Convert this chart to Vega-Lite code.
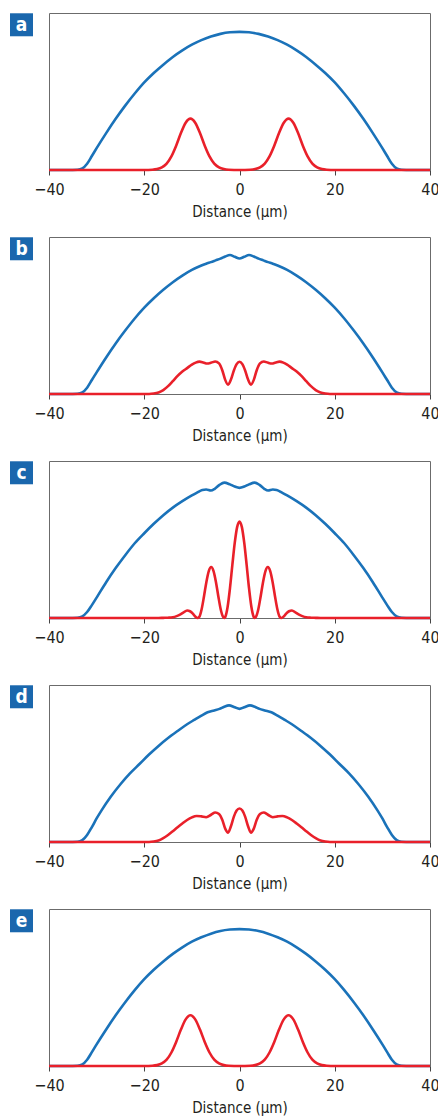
{
"$schema": "https://vega.github.io/schema/vega-lite/v6.json",
"padding": {"left": 9, "top": 12, "right": 0, "bottom": 0},
"spacing": 16,
"config": {
  "view": {"stroke": "#6b6b6b", "strokeWidth": 1},
  "font": "Liberation Sans Narrow, DejaVu Sans Condensed, Liberation Sans, sans-serif",
  "axis": {"labelFont": "Liberation Sans Narrow, DejaVu Sans Condensed, Liberation Sans, sans-serif", "titleFont": "Liberation Sans Narrow, DejaVu Sans Condensed, Liberation Sans, sans-serif", "labelFontSize": 16, "titleFontSize": 15, "titleFontWeight": "normal", "labelColor": "#231f20", "titleColor": "#231f20", "tickColor": "#444444", "domainColor": "#6b6b6b", "tickSize": 5, "labelPadding": 6, "titlePadding": 7, "labelFlush": false, "labelOverlap": false, "grid": false}
},
"datasets": {
"curves": [
{"p":"a","s":"blue","x":-40,"y":0},{"p":"a","s":"blue","x":-36,"y":0},{"p":"a","s":"blue","x":-34,"y":0.002},{"p":"a","s":"blue","x":-33,"y":0.010},{"p":"a","s":"blue","x":-32,"y":0.040},{"p":"a","s":"blue","x":-31,"y":0.089},{"p":"a","s":"blue","x":-30,"y":0.139},{"p":"a","s":"blue","x":-28,"y":0.235},{"p":"a","s":"blue","x":-26,"y":0.326},{"p":"a","s":"blue","x":-24,"y":0.410},{"p":"a","s":"blue","x":-22,"y":0.487},{"p":"a","s":"blue","x":-20,"y":0.558},{"p":"a","s":"blue","x":-18,"y":0.618},{"p":"a","s":"blue","x":-16,"y":0.671},{"p":"a","s":"blue","x":-14,"y":0.720},{"p":"a","s":"blue","x":-12,"y":0.762},{"p":"a","s":"blue","x":-10,"y":0.798},{"p":"a","s":"blue","x":-8,"y":0.827},{"p":"a","s":"blue","x":-6,"y":0.850},{"p":"a","s":"blue","x":-4,"y":0.867},{"p":"a","s":"blue","x":-2,"y":0.877},{"p":"a","s":"blue","x":0,"y":0.880},{"p":"a","s":"blue","x":2,"y":0.877},{"p":"a","s":"blue","x":4,"y":0.867},{"p":"a","s":"blue","x":6,"y":0.850},{"p":"a","s":"blue","x":8,"y":0.827},{"p":"a","s":"blue","x":10,"y":0.798},{"p":"a","s":"blue","x":12,"y":0.762},{"p":"a","s":"blue","x":14,"y":0.720},{"p":"a","s":"blue","x":16,"y":0.671},{"p":"a","s":"blue","x":18,"y":0.618},{"p":"a","s":"blue","x":20,"y":0.558},{"p":"a","s":"blue","x":22,"y":0.487},{"p":"a","s":"blue","x":24,"y":0.410},{"p":"a","s":"blue","x":26,"y":0.326},{"p":"a","s":"blue","x":28,"y":0.235},{"p":"a","s":"blue","x":30,"y":0.139},{"p":"a","s":"blue","x":31,"y":0.089},{"p":"a","s":"blue","x":32,"y":0.040},{"p":"a","s":"blue","x":33,"y":0.010},{"p":"a","s":"blue","x":34,"y":0.002},{"p":"a","s":"blue","x":36,"y":0},{"p":"a","s":"blue","x":40,"y":0},
{"p":"a","s":"red","x":-40,"y":0},{"p":"a","s":"red","x":-20,"y":0},{"p":"a","s":"red","x":-18.3,"y":0.0016},{"p":"a","s":"red","x":-17.3,"y":0.0057},{"p":"a","s":"red","x":-16.3,"y":0.0167},{"p":"a","s":"red","x":-15.3,"y":0.041},{"p":"a","s":"red","x":-14.3,"y":0.087},{"p":"a","s":"red","x":-13.3,"y":0.155},{"p":"a","s":"red","x":-12.3,"y":0.235},{"p":"a","s":"red","x":-11.3,"y":0.301},{"p":"a","s":"red","x":-10.3,"y":0.327},{"p":"a","s":"red","x":-9.3,"y":0.301},{"p":"a","s":"red","x":-8.3,"y":0.235},{"p":"a","s":"red","x":-7.3,"y":0.155},{"p":"a","s":"red","x":-6.3,"y":0.087},{"p":"a","s":"red","x":-5.3,"y":0.041},{"p":"a","s":"red","x":-4.3,"y":0.0167},{"p":"a","s":"red","x":-3.3,"y":0.0057},{"p":"a","s":"red","x":-2.3,"y":0.0016},{"p":"a","s":"red","x":0,"y":0},{"p":"a","s":"red","x":2.3,"y":0.0016},{"p":"a","s":"red","x":3.3,"y":0.0057},{"p":"a","s":"red","x":4.3,"y":0.0167},{"p":"a","s":"red","x":5.3,"y":0.041},{"p":"a","s":"red","x":6.3,"y":0.087},{"p":"a","s":"red","x":7.3,"y":0.155},{"p":"a","s":"red","x":8.3,"y":0.235},{"p":"a","s":"red","x":9.3,"y":0.301},{"p":"a","s":"red","x":10.3,"y":0.327},{"p":"a","s":"red","x":11.3,"y":0.301},{"p":"a","s":"red","x":12.3,"y":0.235},{"p":"a","s":"red","x":13.3,"y":0.155},{"p":"a","s":"red","x":14.3,"y":0.087},{"p":"a","s":"red","x":15.3,"y":0.041},{"p":"a","s":"red","x":16.3,"y":0.0167},{"p":"a","s":"red","x":17.3,"y":0.0057},{"p":"a","s":"red","x":18.3,"y":0.0016},{"p":"a","s":"red","x":20,"y":0},{"p":"a","s":"red","x":40,"y":0},
{"p":"b","s":"blue","x":-40,"y":0},{"p":"b","s":"blue","x":-36,"y":0},{"p":"b","s":"blue","x":-34,"y":0.002},{"p":"b","s":"blue","x":-33,"y":0.010},{"p":"b","s":"blue","x":-32,"y":0.040},{"p":"b","s":"blue","x":-31,"y":0.089},{"p":"b","s":"blue","x":-30,"y":0.138},{"p":"b","s":"blue","x":-28,"y":0.233},{"p":"b","s":"blue","x":-26,"y":0.322},{"p":"b","s":"blue","x":-24,"y":0.404},{"p":"b","s":"blue","x":-22,"y":0.481},{"p":"b","s":"blue","x":-20,"y":0.550},{"p":"b","s":"blue","x":-18,"y":0.610},{"p":"b","s":"blue","x":-16,"y":0.664},{"p":"b","s":"blue","x":-14,"y":0.712},{"p":"b","s":"blue","x":-12,"y":0.754},{"p":"b","s":"blue","x":-10,"y":0.790},{"p":"b","s":"blue","x":-8,"y":0.818},{"p":"b","s":"blue","x":-7,"y":0.830},{"p":"b","s":"blue","x":-6,"y":0.840},{"p":"b","s":"blue","x":-5,"y":0.851},{"p":"b","s":"blue","x":-4,"y":0.862},{"p":"b","s":"blue","x":-3,"y":0.876},{"p":"b","s":"blue","x":-2,"y":0.885},{"p":"b","s":"blue","x":-1,"y":0.874},{"p":"b","s":"blue","x":0,"y":0.863},{"p":"b","s":"blue","x":1,"y":0.874},{"p":"b","s":"blue","x":2,"y":0.885},{"p":"b","s":"blue","x":3,"y":0.876},{"p":"b","s":"blue","x":4,"y":0.862},{"p":"b","s":"blue","x":5,"y":0.851},{"p":"b","s":"blue","x":6,"y":0.840},{"p":"b","s":"blue","x":7,"y":0.830},{"p":"b","s":"blue","x":8,"y":0.818},{"p":"b","s":"blue","x":10,"y":0.790},{"p":"b","s":"blue","x":12,"y":0.754},{"p":"b","s":"blue","x":14,"y":0.712},{"p":"b","s":"blue","x":16,"y":0.664},{"p":"b","s":"blue","x":18,"y":0.610},{"p":"b","s":"blue","x":20,"y":0.550},{"p":"b","s":"blue","x":22,"y":0.481},{"p":"b","s":"blue","x":24,"y":0.404},{"p":"b","s":"blue","x":26,"y":0.322},{"p":"b","s":"blue","x":28,"y":0.233},{"p":"b","s":"blue","x":30,"y":0.138},{"p":"b","s":"blue","x":31,"y":0.089},{"p":"b","s":"blue","x":32,"y":0.040},{"p":"b","s":"blue","x":33,"y":0.010},{"p":"b","s":"blue","x":34,"y":0.002},{"p":"b","s":"blue","x":36,"y":0},{"p":"b","s":"blue","x":40,"y":0},
{"p":"b","s":"red","x":-40,"y":0},{"p":"b","s":"red","x":-19,"y":0},{"p":"b","s":"red","x":-18,"y":0.003},{"p":"b","s":"red","x":-17,"y":0.010},{"p":"b","s":"red","x":-16,"y":0.025},{"p":"b","s":"red","x":-15,"y":0.050},{"p":"b","s":"red","x":-14,"y":0.082},{"p":"b","s":"red","x":-13,"y":0.115},{"p":"b","s":"red","x":-12,"y":0.143},{"p":"b","s":"red","x":-11,"y":0.165},{"p":"b","s":"red","x":-10,"y":0.187},{"p":"b","s":"red","x":-9.2,"y":0.200},{"p":"b","s":"red","x":-8.4,"y":0.206},{"p":"b","s":"red","x":-7.6,"y":0.201},{"p":"b","s":"red","x":-6.8,"y":0.194},{"p":"b","s":"red","x":-5.9,"y":0.200},{"p":"b","s":"red","x":-5.1,"y":0.207},{"p":"b","s":"red","x":-4.3,"y":0.195},{"p":"b","s":"red","x":-3.6,"y":0.150},{"p":"b","s":"red","x":-3.0,"y":0.090},{"p":"b","s":"red","x":-2.4,"y":0.060},{"p":"b","s":"red","x":-1.8,"y":0.092},{"p":"b","s":"red","x":-1.2,"y":0.148},{"p":"b","s":"red","x":-0.6,"y":0.190},{"p":"b","s":"red","x":0,"y":0.205},{"p":"b","s":"red","x":0.6,"y":0.190},{"p":"b","s":"red","x":1.2,"y":0.148},{"p":"b","s":"red","x":1.8,"y":0.092},{"p":"b","s":"red","x":2.4,"y":0.060},{"p":"b","s":"red","x":3.0,"y":0.090},{"p":"b","s":"red","x":3.6,"y":0.150},{"p":"b","s":"red","x":4.3,"y":0.195},{"p":"b","s":"red","x":5.1,"y":0.207},{"p":"b","s":"red","x":5.9,"y":0.200},{"p":"b","s":"red","x":6.8,"y":0.194},{"p":"b","s":"red","x":7.6,"y":0.201},{"p":"b","s":"red","x":8.4,"y":0.206},{"p":"b","s":"red","x":9.2,"y":0.200},{"p":"b","s":"red","x":10,"y":0.187},{"p":"b","s":"red","x":11,"y":0.165},{"p":"b","s":"red","x":12,"y":0.143},{"p":"b","s":"red","x":13,"y":0.115},{"p":"b","s":"red","x":14,"y":0.082},{"p":"b","s":"red","x":15,"y":0.050},{"p":"b","s":"red","x":16,"y":0.025},{"p":"b","s":"red","x":17,"y":0.010},{"p":"b","s":"red","x":18,"y":0.003},{"p":"b","s":"red","x":19,"y":0},{"p":"b","s":"red","x":40,"y":0},
{"p":"c","s":"blue","x":-40,"y":0},{"p":"c","s":"blue","x":-36,"y":0},{"p":"c","s":"blue","x":-34,"y":0.002},{"p":"c","s":"blue","x":-33,"y":0.010},{"p":"c","s":"blue","x":-32,"y":0.038},{"p":"c","s":"blue","x":-31,"y":0.082},{"p":"c","s":"blue","x":-30,"y":0.130},{"p":"c","s":"blue","x":-28,"y":0.228},{"p":"c","s":"blue","x":-26,"y":0.318},{"p":"c","s":"blue","x":-24,"y":0.400},{"p":"c","s":"blue","x":-22,"y":0.476},{"p":"c","s":"blue","x":-20,"y":0.540},{"p":"c","s":"blue","x":-18,"y":0.600},{"p":"c","s":"blue","x":-16,"y":0.655},{"p":"c","s":"blue","x":-14,"y":0.703},{"p":"c","s":"blue","x":-12,"y":0.744},{"p":"c","s":"blue","x":-10,"y":0.781},{"p":"c","s":"blue","x":-9,"y":0.797},{"p":"c","s":"blue","x":-7.8,"y":0.815},{"p":"c","s":"blue","x":-7,"y":0.818},{"p":"c","s":"blue","x":-6,"y":0.812},{"p":"c","s":"blue","x":-5.2,"y":0.823},{"p":"c","s":"blue","x":-4.2,"y":0.848},{"p":"c","s":"blue","x":-3.2,"y":0.862},{"p":"c","s":"blue","x":-2,"y":0.851},{"p":"c","s":"blue","x":-1,"y":0.837},{"p":"c","s":"blue","x":0,"y":0.829},{"p":"c","s":"blue","x":1,"y":0.837},{"p":"c","s":"blue","x":2,"y":0.851},{"p":"c","s":"blue","x":3.2,"y":0.862},{"p":"c","s":"blue","x":4.2,"y":0.848},{"p":"c","s":"blue","x":5.2,"y":0.823},{"p":"c","s":"blue","x":6,"y":0.812},{"p":"c","s":"blue","x":7,"y":0.818},{"p":"c","s":"blue","x":7.8,"y":0.815},{"p":"c","s":"blue","x":9,"y":0.797},{"p":"c","s":"blue","x":10,"y":0.781},{"p":"c","s":"blue","x":12,"y":0.744},{"p":"c","s":"blue","x":14,"y":0.703},{"p":"c","s":"blue","x":16,"y":0.655},{"p":"c","s":"blue","x":18,"y":0.600},{"p":"c","s":"blue","x":20,"y":0.540},{"p":"c","s":"blue","x":22,"y":0.476},{"p":"c","s":"blue","x":24,"y":0.400},{"p":"c","s":"blue","x":26,"y":0.318},{"p":"c","s":"blue","x":28,"y":0.228},{"p":"c","s":"blue","x":30,"y":0.130},{"p":"c","s":"blue","x":31,"y":0.082},{"p":"c","s":"blue","x":32,"y":0.038},{"p":"c","s":"blue","x":33,"y":0.010},{"p":"c","s":"blue","x":34,"y":0.002},{"p":"c","s":"blue","x":36,"y":0},{"p":"c","s":"blue","x":40,"y":0},
{"p":"c","s":"red","x":-40,"y":0},{"p":"c","s":"red","x":-17,"y":0},{"p":"c","s":"red","x":-16,"y":0.001},{"p":"c","s":"red","x":-15,"y":0.002},{"p":"c","s":"red","x":-14,"y":0.005},{"p":"c","s":"red","x":-13.2,"y":0.012},{"p":"c","s":"red","x":-12.5,"y":0.021},{"p":"c","s":"red","x":-11.8,"y":0.034},{"p":"c","s":"red","x":-11,"y":0.048},{"p":"c","s":"red","x":-10.4,"y":0.043},{"p":"c","s":"red","x":-9.8,"y":0.028},{"p":"c","s":"red","x":-9.3,"y":0.010},{"p":"c","s":"red","x":-8.8,"y":0},{"p":"c","s":"red","x":-8.45,"y":0.007},{"p":"c","s":"red","x":-7.95,"y":0.056},{"p":"c","s":"red","x":-7.45,"y":0.139},{"p":"c","s":"red","x":-6.95,"y":0.230},{"p":"c","s":"red","x":-6.45,"y":0.299},{"p":"c","s":"red","x":-5.95,"y":0.325},{"p":"c","s":"red","x":-5.45,"y":0.299},{"p":"c","s":"red","x":-4.95,"y":0.230},{"p":"c","s":"red","x":-4.45,"y":0.139},{"p":"c","s":"red","x":-3.95,"y":0.056},{"p":"c","s":"red","x":-3.45,"y":0.007},{"p":"c","s":"red","x":-3.2,"y":0},{"p":"c","s":"red","x":-3.0,"y":0.006},{"p":"c","s":"red","x":-2.5,"y":0.070},{"p":"c","s":"red","x":-2.0,"y":0.190},{"p":"c","s":"red","x":-1.5,"y":0.338},{"p":"c","s":"red","x":-1.0,"y":0.478},{"p":"c","s":"red","x":-0.5,"y":0.579},{"p":"c","s":"red","x":0,"y":0.615},{"p":"c","s":"red","x":0.5,"y":0.579},{"p":"c","s":"red","x":1.0,"y":0.478},{"p":"c","s":"red","x":1.5,"y":0.338},{"p":"c","s":"red","x":2.0,"y":0.190},{"p":"c","s":"red","x":2.5,"y":0.070},{"p":"c","s":"red","x":3.0,"y":0.006},{"p":"c","s":"red","x":3.2,"y":0},{"p":"c","s":"red","x":3.45,"y":0.007},{"p":"c","s":"red","x":3.95,"y":0.056},{"p":"c","s":"red","x":4.45,"y":0.139},{"p":"c","s":"red","x":4.95,"y":0.230},{"p":"c","s":"red","x":5.45,"y":0.299},{"p":"c","s":"red","x":5.95,"y":0.325},{"p":"c","s":"red","x":6.45,"y":0.299},{"p":"c","s":"red","x":6.95,"y":0.230},{"p":"c","s":"red","x":7.45,"y":0.139},{"p":"c","s":"red","x":7.95,"y":0.056},{"p":"c","s":"red","x":8.45,"y":0.007},{"p":"c","s":"red","x":8.8,"y":0},{"p":"c","s":"red","x":9.3,"y":0.010},{"p":"c","s":"red","x":9.8,"y":0.028},{"p":"c","s":"red","x":10.4,"y":0.043},{"p":"c","s":"red","x":11,"y":0.048},{"p":"c","s":"red","x":11.8,"y":0.034},{"p":"c","s":"red","x":12.5,"y":0.021},{"p":"c","s":"red","x":13.2,"y":0.012},{"p":"c","s":"red","x":14,"y":0.005},{"p":"c","s":"red","x":15,"y":0.002},{"p":"c","s":"red","x":16,"y":0.001},{"p":"c","s":"red","x":17,"y":0},{"p":"c","s":"red","x":40,"y":0},
{"p":"d","s":"blue","x":-40,"y":0},{"p":"d","s":"blue","x":-36,"y":0},{"p":"d","s":"blue","x":-34,"y":0.002},{"p":"d","s":"blue","x":-33,"y":0.012},{"p":"d","s":"blue","x":-32,"y":0.045},{"p":"d","s":"blue","x":-31,"y":0.095},{"p":"d","s":"blue","x":-30,"y":0.150},{"p":"d","s":"blue","x":-29,"y":0.200},{"p":"d","s":"blue","x":-27,"y":0.290},{"p":"d","s":"blue","x":-25,"y":0.368},{"p":"d","s":"blue","x":-23,"y":0.437},{"p":"d","s":"blue","x":-21,"y":0.497},{"p":"d","s":"blue","x":-19,"y":0.557},{"p":"d","s":"blue","x":-17,"y":0.612},{"p":"d","s":"blue","x":-15,"y":0.662},{"p":"d","s":"blue","x":-13,"y":0.707},{"p":"d","s":"blue","x":-11,"y":0.750},{"p":"d","s":"blue","x":-9.5,"y":0.778},{"p":"d","s":"blue","x":-8,"y":0.805},{"p":"d","s":"blue","x":-6.7,"y":0.826},{"p":"d","s":"blue","x":-5.3,"y":0.838},{"p":"d","s":"blue","x":-4.2,"y":0.848},{"p":"d","s":"blue","x":-3.2,"y":0.862},{"p":"d","s":"blue","x":-2.2,"y":0.870},{"p":"d","s":"blue","x":-1,"y":0.858},{"p":"d","s":"blue","x":0,"y":0.848},{"p":"d","s":"blue","x":1,"y":0.858},{"p":"d","s":"blue","x":2.2,"y":0.870},{"p":"d","s":"blue","x":3.2,"y":0.862},{"p":"d","s":"blue","x":4.2,"y":0.848},{"p":"d","s":"blue","x":5.3,"y":0.838},{"p":"d","s":"blue","x":6.7,"y":0.826},{"p":"d","s":"blue","x":8,"y":0.805},{"p":"d","s":"blue","x":9.5,"y":0.778},{"p":"d","s":"blue","x":11,"y":0.750},{"p":"d","s":"blue","x":13,"y":0.707},{"p":"d","s":"blue","x":15,"y":0.662},{"p":"d","s":"blue","x":17,"y":0.612},{"p":"d","s":"blue","x":19,"y":0.557},{"p":"d","s":"blue","x":21,"y":0.497},{"p":"d","s":"blue","x":23,"y":0.437},{"p":"d","s":"blue","x":25,"y":0.368},{"p":"d","s":"blue","x":27,"y":0.290},{"p":"d","s":"blue","x":29,"y":0.200},{"p":"d","s":"blue","x":30,"y":0.150},{"p":"d","s":"blue","x":31,"y":0.095},{"p":"d","s":"blue","x":32,"y":0.045},{"p":"d","s":"blue","x":33,"y":0.012},{"p":"d","s":"blue","x":34,"y":0.002},{"p":"d","s":"blue","x":36,"y":0},{"p":"d","s":"blue","x":40,"y":0},
{"p":"d","s":"red","x":-40,"y":0},{"p":"d","s":"red","x":-19,"y":0},{"p":"d","s":"red","x":-18,"y":0.003},{"p":"d","s":"red","x":-17,"y":0.010},{"p":"d","s":"red","x":-16,"y":0.025},{"p":"d","s":"red","x":-15,"y":0.045},{"p":"d","s":"red","x":-14,"y":0.069},{"p":"d","s":"red","x":-13,"y":0.094},{"p":"d","s":"red","x":-12,"y":0.118},{"p":"d","s":"red","x":-11,"y":0.140},{"p":"d","s":"red","x":-10,"y":0.157},{"p":"d","s":"red","x":-9,"y":0.166},{"p":"d","s":"red","x":-8,"y":0.163},{"p":"d","s":"red","x":-7,"y":0.158},{"p":"d","s":"red","x":-5.9,"y":0.175},{"p":"d","s":"red","x":-5.1,"y":0.188},{"p":"d","s":"red","x":-4.3,"y":0.178},{"p":"d","s":"red","x":-3.6,"y":0.140},{"p":"d","s":"red","x":-3.0,"y":0.085},{"p":"d","s":"red","x":-2.4,"y":0.060},{"p":"d","s":"red","x":-1.8,"y":0.100},{"p":"d","s":"red","x":-1.2,"y":0.160},{"p":"d","s":"red","x":-0.6,"y":0.200},{"p":"d","s":"red","x":0,"y":0.213},{"p":"d","s":"red","x":0.6,"y":0.200},{"p":"d","s":"red","x":1.2,"y":0.160},{"p":"d","s":"red","x":1.8,"y":0.100},{"p":"d","s":"red","x":2.4,"y":0.060},{"p":"d","s":"red","x":3.0,"y":0.085},{"p":"d","s":"red","x":3.6,"y":0.140},{"p":"d","s":"red","x":4.3,"y":0.178},{"p":"d","s":"red","x":5.1,"y":0.188},{"p":"d","s":"red","x":5.9,"y":0.175},{"p":"d","s":"red","x":7,"y":0.158},{"p":"d","s":"red","x":8,"y":0.163},{"p":"d","s":"red","x":9,"y":0.166},{"p":"d","s":"red","x":10,"y":0.157},{"p":"d","s":"red","x":11,"y":0.140},{"p":"d","s":"red","x":12,"y":0.118},{"p":"d","s":"red","x":13,"y":0.094},{"p":"d","s":"red","x":14,"y":0.069},{"p":"d","s":"red","x":15,"y":0.045},{"p":"d","s":"red","x":16,"y":0.025},{"p":"d","s":"red","x":17,"y":0.010},{"p":"d","s":"red","x":18,"y":0.003},{"p":"d","s":"red","x":19,"y":0},{"p":"d","s":"red","x":40,"y":0},
{"p":"e","s":"blue","x":-40,"y":0},{"p":"e","s":"blue","x":-36,"y":0},{"p":"e","s":"blue","x":-34,"y":0.002},{"p":"e","s":"blue","x":-33,"y":0.010},{"p":"e","s":"blue","x":-32,"y":0.040},{"p":"e","s":"blue","x":-31,"y":0.088},{"p":"e","s":"blue","x":-30,"y":0.138},{"p":"e","s":"blue","x":-28,"y":0.233},{"p":"e","s":"blue","x":-26,"y":0.323},{"p":"e","s":"blue","x":-24,"y":0.406},{"p":"e","s":"blue","x":-22,"y":0.483},{"p":"e","s":"blue","x":-20,"y":0.553},{"p":"e","s":"blue","x":-18,"y":0.613},{"p":"e","s":"blue","x":-16,"y":0.666},{"p":"e","s":"blue","x":-14,"y":0.714},{"p":"e","s":"blue","x":-12,"y":0.756},{"p":"e","s":"blue","x":-10,"y":0.792},{"p":"e","s":"blue","x":-8,"y":0.820},{"p":"e","s":"blue","x":-6,"y":0.843},{"p":"e","s":"blue","x":-4,"y":0.860},{"p":"e","s":"blue","x":-2,"y":0.869},{"p":"e","s":"blue","x":0,"y":0.872},{"p":"e","s":"blue","x":2,"y":0.869},{"p":"e","s":"blue","x":4,"y":0.860},{"p":"e","s":"blue","x":6,"y":0.843},{"p":"e","s":"blue","x":8,"y":0.820},{"p":"e","s":"blue","x":10,"y":0.792},{"p":"e","s":"blue","x":12,"y":0.756},{"p":"e","s":"blue","x":14,"y":0.714},{"p":"e","s":"blue","x":16,"y":0.666},{"p":"e","s":"blue","x":18,"y":0.613},{"p":"e","s":"blue","x":20,"y":0.553},{"p":"e","s":"blue","x":22,"y":0.483},{"p":"e","s":"blue","x":24,"y":0.406},{"p":"e","s":"blue","x":26,"y":0.323},{"p":"e","s":"blue","x":28,"y":0.233},{"p":"e","s":"blue","x":30,"y":0.138},{"p":"e","s":"blue","x":31,"y":0.088},{"p":"e","s":"blue","x":32,"y":0.040},{"p":"e","s":"blue","x":33,"y":0.010},{"p":"e","s":"blue","x":34,"y":0.002},{"p":"e","s":"blue","x":36,"y":0},{"p":"e","s":"blue","x":40,"y":0},
{"p":"e","s":"red","x":-40,"y":0},{"p":"e","s":"red","x":-20,"y":0},{"p":"e","s":"red","x":-18.3,"y":0.0016},{"p":"e","s":"red","x":-17.3,"y":0.0056},{"p":"e","s":"red","x":-16.3,"y":0.0165},{"p":"e","s":"red","x":-15.3,"y":0.040},{"p":"e","s":"red","x":-14.3,"y":0.086},{"p":"e","s":"red","x":-13.3,"y":0.153},{"p":"e","s":"red","x":-12.3,"y":0.232},{"p":"e","s":"red","x":-11.3,"y":0.297},{"p":"e","s":"red","x":-10.3,"y":0.323},{"p":"e","s":"red","x":-9.3,"y":0.297},{"p":"e","s":"red","x":-8.3,"y":0.232},{"p":"e","s":"red","x":-7.3,"y":0.153},{"p":"e","s":"red","x":-6.3,"y":0.086},{"p":"e","s":"red","x":-5.3,"y":0.040},{"p":"e","s":"red","x":-4.3,"y":0.0165},{"p":"e","s":"red","x":-3.3,"y":0.0056},{"p":"e","s":"red","x":-2.3,"y":0.0016},{"p":"e","s":"red","x":0,"y":0},{"p":"e","s":"red","x":2.3,"y":0.0016},{"p":"e","s":"red","x":3.3,"y":0.0056},{"p":"e","s":"red","x":4.3,"y":0.0165},{"p":"e","s":"red","x":5.3,"y":0.040},{"p":"e","s":"red","x":6.3,"y":0.086},{"p":"e","s":"red","x":7.3,"y":0.153},{"p":"e","s":"red","x":8.3,"y":0.232},{"p":"e","s":"red","x":9.3,"y":0.297},{"p":"e","s":"red","x":10.3,"y":0.323},{"p":"e","s":"red","x":11.3,"y":0.297},{"p":"e","s":"red","x":12.3,"y":0.232},{"p":"e","s":"red","x":13.3,"y":0.153},{"p":"e","s":"red","x":14.3,"y":0.086},{"p":"e","s":"red","x":15.3,"y":0.040},{"p":"e","s":"red","x":16.3,"y":0.0165},{"p":"e","s":"red","x":17.3,"y":0.0056},{"p":"e","s":"red","x":18.3,"y":0.0016},{"p":"e","s":"red","x":20,"y":0},{"p":"e","s":"red","x":40,"y":0}
]
},
"vconcat": [
{"width": 381, "height": 157, "layer": [
 {"data": {"name": "curves"}, "transform": [{"filter": "datum.p === 'a' && datum.s === 'blue'"}], "mark": {"type": "line", "color": "#1a72b9", "strokeWidth": 2.6, "interpolate": "monotone"}, "encoding": {"x": {"field": "x", "type": "quantitative", "scale": {"domain": [-40, 40], "nice": false, "zero": false}, "axis": {"values": [-40, -20, 0, 20, 40], "title": "Distance (μm)"}}, "y": {"field": "y", "type": "quantitative", "scale": {"domain": [0, 1], "nice": false}, "axis": null}}},
 {"data": {"name": "curves"}, "transform": [{"filter": "datum.p === 'a' && datum.s === 'red'"}], "mark": {"type": "line", "color": "#e9202a", "strokeWidth": 2.6, "interpolate": "monotone"}, "encoding": {"x": {"field": "x", "type": "quantitative", "scale": {"domain": [-40, 40], "nice": false, "zero": false}}, "y": {"field": "y", "type": "quantitative", "scale": {"domain": [0, 1], "nice": false}, "axis": null}}},
 {"data": {"values": [{"label": "a"}]}, "mark": {"type": "point", "shape": "square", "size": 529, "filled": true, "opacity": 1, "color": "#1a67ad"}, "encoding": {"x": {"datum": -45.77, "type": "quantitative", "scale": {"domain": [-40, 40], "nice": false, "zero": false}}, "y": {"datum": 0.925, "type": "quantitative", "scale": {"domain": [0, 1], "nice": false}, "axis": null}}},
 {"data": {"values": [{"label": "a"}]}, "mark": {"type": "text", "color": "white", "fontWeight": "bold", "fontSize": 19, "font": "Liberation Sans Narrow, DejaVu Sans Condensed, Liberation Sans, sans-serif", "align": "center", "baseline": "middle"}, "encoding": {"x": {"datum": -45.77, "type": "quantitative", "scale": {"domain": [-40, 40], "nice": false, "zero": false}}, "y": {"datum": 0.925, "type": "quantitative", "scale": {"domain": [0, 1], "nice": false}, "axis": null}, "text": {"field": "label"}}}
]},
{"width": 381, "height": 157, "layer": [
 {"data": {"name": "curves"}, "transform": [{"filter": "datum.p === 'b' && datum.s === 'blue'"}], "mark": {"type": "line", "color": "#1a72b9", "strokeWidth": 2.6, "interpolate": "monotone"}, "encoding": {"x": {"field": "x", "type": "quantitative", "scale": {"domain": [-40, 40], "nice": false, "zero": false}, "axis": {"values": [-40, -20, 0, 20, 40], "title": "Distance (μm)"}}, "y": {"field": "y", "type": "quantitative", "scale": {"domain": [0, 1], "nice": false}, "axis": null}}},
 {"data": {"name": "curves"}, "transform": [{"filter": "datum.p === 'b' && datum.s === 'red'"}], "mark": {"type": "line", "color": "#e9202a", "strokeWidth": 2.6, "interpolate": "monotone"}, "encoding": {"x": {"field": "x", "type": "quantitative", "scale": {"domain": [-40, 40], "nice": false, "zero": false}}, "y": {"field": "y", "type": "quantitative", "scale": {"domain": [0, 1], "nice": false}, "axis": null}}},
 {"data": {"values": [{"label": "b"}]}, "mark": {"type": "point", "shape": "square", "size": 529, "filled": true, "opacity": 1, "color": "#1a67ad"}, "encoding": {"x": {"datum": -45.77, "type": "quantitative", "scale": {"domain": [-40, 40], "nice": false, "zero": false}}, "y": {"datum": 0.925, "type": "quantitative", "scale": {"domain": [0, 1], "nice": false}, "axis": null}}},
 {"data": {"values": [{"label": "b"}]}, "mark": {"type": "text", "color": "white", "fontWeight": "bold", "fontSize": 19, "font": "Liberation Sans Narrow, DejaVu Sans Condensed, Liberation Sans, sans-serif", "align": "center", "baseline": "middle"}, "encoding": {"x": {"datum": -45.77, "type": "quantitative", "scale": {"domain": [-40, 40], "nice": false, "zero": false}}, "y": {"datum": 0.925, "type": "quantitative", "scale": {"domain": [0, 1], "nice": false}, "axis": null}, "text": {"field": "label"}}}
]},
{"width": 381, "height": 157, "layer": [
 {"data": {"name": "curves"}, "transform": [{"filter": "datum.p === 'c' && datum.s === 'blue'"}], "mark": {"type": "line", "color": "#1a72b9", "strokeWidth": 2.6, "interpolate": "monotone"}, "encoding": {"x": {"field": "x", "type": "quantitative", "scale": {"domain": [-40, 40], "nice": false, "zero": false}, "axis": {"values": [-40, -20, 0, 20, 40], "title": "Distance (μm)"}}, "y": {"field": "y", "type": "quantitative", "scale": {"domain": [0, 1], "nice": false}, "axis": null}}},
 {"data": {"name": "curves"}, "transform": [{"filter": "datum.p === 'c' && datum.s === 'red'"}], "mark": {"type": "line", "color": "#e9202a", "strokeWidth": 2.6, "interpolate": "monotone"}, "encoding": {"x": {"field": "x", "type": "quantitative", "scale": {"domain": [-40, 40], "nice": false, "zero": false}}, "y": {"field": "y", "type": "quantitative", "scale": {"domain": [0, 1], "nice": false}, "axis": null}}},
 {"data": {"values": [{"label": "c"}]}, "mark": {"type": "point", "shape": "square", "size": 529, "filled": true, "opacity": 1, "color": "#1a67ad"}, "encoding": {"x": {"datum": -45.77, "type": "quantitative", "scale": {"domain": [-40, 40], "nice": false, "zero": false}}, "y": {"datum": 0.925, "type": "quantitative", "scale": {"domain": [0, 1], "nice": false}, "axis": null}}},
 {"data": {"values": [{"label": "c"}]}, "mark": {"type": "text", "color": "white", "fontWeight": "bold", "fontSize": 19, "font": "Liberation Sans Narrow, DejaVu Sans Condensed, Liberation Sans, sans-serif", "align": "center", "baseline": "middle"}, "encoding": {"x": {"datum": -45.77, "type": "quantitative", "scale": {"domain": [-40, 40], "nice": false, "zero": false}}, "y": {"datum": 0.925, "type": "quantitative", "scale": {"domain": [0, 1], "nice": false}, "axis": null}, "text": {"field": "label"}}}
]},
{"width": 381, "height": 157, "layer": [
 {"data": {"name": "curves"}, "transform": [{"filter": "datum.p === 'd' && datum.s === 'blue'"}], "mark": {"type": "line", "color": "#1a72b9", "strokeWidth": 2.6, "interpolate": "monotone"}, "encoding": {"x": {"field": "x", "type": "quantitative", "scale": {"domain": [-40, 40], "nice": false, "zero": false}, "axis": {"values": [-40, -20, 0, 20, 40], "title": "Distance (μm)"}}, "y": {"field": "y", "type": "quantitative", "scale": {"domain": [0, 1], "nice": false}, "axis": null}}},
 {"data": {"name": "curves"}, "transform": [{"filter": "datum.p === 'd' && datum.s === 'red'"}], "mark": {"type": "line", "color": "#e9202a", "strokeWidth": 2.6, "interpolate": "monotone"}, "encoding": {"x": {"field": "x", "type": "quantitative", "scale": {"domain": [-40, 40], "nice": false, "zero": false}}, "y": {"field": "y", "type": "quantitative", "scale": {"domain": [0, 1], "nice": false}, "axis": null}}},
 {"data": {"values": [{"label": "d"}]}, "mark": {"type": "point", "shape": "square", "size": 529, "filled": true, "opacity": 1, "color": "#1a67ad"}, "encoding": {"x": {"datum": -45.77, "type": "quantitative", "scale": {"domain": [-40, 40], "nice": false, "zero": false}}, "y": {"datum": 0.925, "type": "quantitative", "scale": {"domain": [0, 1], "nice": false}, "axis": null}}},
 {"data": {"values": [{"label": "d"}]}, "mark": {"type": "text", "color": "white", "fontWeight": "bold", "fontSize": 19, "font": "Liberation Sans Narrow, DejaVu Sans Condensed, Liberation Sans, sans-serif", "align": "center", "baseline": "middle"}, "encoding": {"x": {"datum": -45.77, "type": "quantitative", "scale": {"domain": [-40, 40], "nice": false, "zero": false}}, "y": {"datum": 0.925, "type": "quantitative", "scale": {"domain": [0, 1], "nice": false}, "axis": null}, "text": {"field": "label"}}}
]},
{"width": 381, "height": 157, "layer": [
 {"data": {"name": "curves"}, "transform": [{"filter": "datum.p === 'e' && datum.s === 'blue'"}], "mark": {"type": "line", "color": "#1a72b9", "strokeWidth": 2.6, "interpolate": "monotone"}, "encoding": {"x": {"field": "x", "type": "quantitative", "scale": {"domain": [-40, 40], "nice": false, "zero": false}, "axis": {"values": [-40, -20, 0, 20, 40], "title": "Distance (μm)"}}, "y": {"field": "y", "type": "quantitative", "scale": {"domain": [0, 1], "nice": false}, "axis": null}}},
 {"data": {"name": "curves"}, "transform": [{"filter": "datum.p === 'e' && datum.s === 'red'"}], "mark": {"type": "line", "color": "#e9202a", "strokeWidth": 2.6, "interpolate": "monotone"}, "encoding": {"x": {"field": "x", "type": "quantitative", "scale": {"domain": [-40, 40], "nice": false, "zero": false}}, "y": {"field": "y", "type": "quantitative", "scale": {"domain": [0, 1], "nice": false}, "axis": null}}},
 {"data": {"values": [{"label": "e"}]}, "mark": {"type": "point", "shape": "square", "size": 529, "filled": true, "opacity": 1, "color": "#1a67ad"}, "encoding": {"x": {"datum": -45.77, "type": "quantitative", "scale": {"domain": [-40, 40], "nice": false, "zero": false}}, "y": {"datum": 0.925, "type": "quantitative", "scale": {"domain": [0, 1], "nice": false}, "axis": null}}},
 {"data": {"values": [{"label": "e"}]}, "mark": {"type": "text", "color": "white", "fontWeight": "bold", "fontSize": 19, "font": "Liberation Sans Narrow, DejaVu Sans Condensed, Liberation Sans, sans-serif", "align": "center", "baseline": "middle"}, "encoding": {"x": {"datum": -45.77, "type": "quantitative", "scale": {"domain": [-40, 40], "nice": false, "zero": false}}, "y": {"datum": 0.925, "type": "quantitative", "scale": {"domain": [0, 1], "nice": false}, "axis": null}, "text": {"field": "label"}}}
]}
]
}
